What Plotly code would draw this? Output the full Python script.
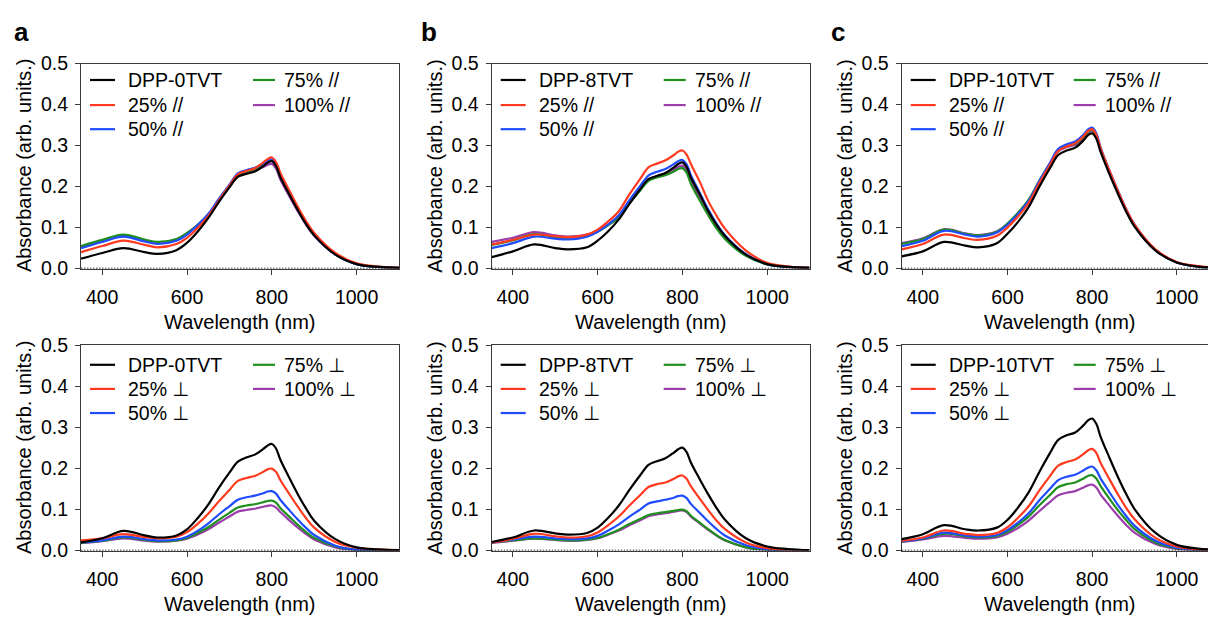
import plotly.graph_objects as go

W, H = 1208, 625

# Wavelength grid (nm) at which the spectra are sampled
wavelength = [350, 400, 450, 500, 530, 575, 600, 625, 650, 675, 700, 720, 740, 760,
              780, 790, 800, 810, 820, 840, 860, 880, 900, 950, 1000, 1050, 1100]

# ---- a: DPP-0TVT, parallel polarisation ----
a_par_neat = [0.024, 0.038, 0.050, 0.040, 0.036, 0.045, 0.063, 0.090, 0.123, 0.162, 0.198, 0.224, 0.231, 0.237,
              0.250, 0.258, 0.262, 0.250, 0.223, 0.183, 0.145, 0.110, 0.081, 0.034, 0.011, 0.004, 0.002]
a_par_25 = [0.040, 0.055, 0.068, 0.058, 0.052, 0.060, 0.075, 0.099, 0.128, 0.166, 0.202, 0.230, 0.238, 0.245,
            0.259, 0.267, 0.271, 0.260, 0.234, 0.193, 0.153, 0.117, 0.087, 0.038, 0.013, 0.005, 0.002]
a_par_50 = [0.050, 0.065, 0.078, 0.066, 0.060, 0.068, 0.083, 0.106, 0.133, 0.170, 0.205, 0.232, 0.240, 0.246,
            0.256, 0.263, 0.266, 0.254, 0.227, 0.186, 0.148, 0.112, 0.082, 0.035, 0.011, 0.004, 0.002]
a_par_75 = [0.055, 0.070, 0.083, 0.071, 0.065, 0.072, 0.087, 0.107, 0.131, 0.168, 0.203, 0.229, 0.236, 0.243,
            0.254, 0.261, 0.264, 0.252, 0.225, 0.185, 0.147, 0.111, 0.082, 0.035, 0.011, 0.004, 0.002]
a_par_100 = [0.052, 0.067, 0.080, 0.068, 0.062, 0.070, 0.085, 0.105, 0.129, 0.166, 0.200, 0.227, 0.234, 0.240,
             0.248, 0.253, 0.255, 0.244, 0.218, 0.179, 0.142, 0.108, 0.080, 0.034, 0.011, 0.004, 0.002]

# ---- b: DPP-8TVT, parallel polarisation ----
b_par_neat = [0.028, 0.042, 0.059, 0.050, 0.047, 0.052, 0.068, 0.091, 0.120, 0.158, 0.193, 0.218, 0.226, 0.233,
              0.247, 0.255, 0.259, 0.248, 0.222, 0.183, 0.142, 0.108, 0.080, 0.034, 0.011, 0.004, 0.002]
b_par_25 = [0.059, 0.070, 0.083, 0.079, 0.077, 0.083, 0.095, 0.115, 0.140, 0.181, 0.218, 0.247, 0.256, 0.264,
            0.277, 0.285, 0.288, 0.278, 0.255, 0.214, 0.167, 0.130, 0.098, 0.044, 0.014, 0.005, 0.002]
b_par_50 = [0.050, 0.062, 0.078, 0.073, 0.071, 0.078, 0.090, 0.108, 0.130, 0.167, 0.201, 0.227, 0.236, 0.243,
            0.255, 0.262, 0.265, 0.254, 0.228, 0.187, 0.146, 0.111, 0.082, 0.035, 0.011, 0.004, 0.002]
b_par_75 = [0.058, 0.069, 0.084, 0.077, 0.075, 0.080, 0.090, 0.106, 0.125, 0.159, 0.190, 0.214, 0.222, 0.228,
            0.237, 0.243, 0.245, 0.234, 0.207, 0.168, 0.132, 0.099, 0.073, 0.031, 0.010, 0.004, 0.002]
b_par_100 = [0.065, 0.075, 0.089, 0.081, 0.078, 0.083, 0.092, 0.107, 0.126, 0.160, 0.192, 0.217, 0.225, 0.231,
             0.242, 0.248, 0.251, 0.240, 0.214, 0.176, 0.139, 0.105, 0.078, 0.033, 0.011, 0.004, 0.002]

# ---- c: DPP-10TVT, parallel polarisation ----
c_par_neat = [0.030, 0.042, 0.065, 0.056, 0.052, 0.062, 0.085, 0.114, 0.150, 0.199, 0.244, 0.277, 0.288, 0.295,
              0.313, 0.325, 0.330, 0.317, 0.285, 0.233, 0.185, 0.140, 0.103, 0.044, 0.015, 0.005, 0.002]
c_par_25 = [0.047, 0.060, 0.083, 0.074, 0.070, 0.080, 0.100, 0.127, 0.160, 0.208, 0.252, 0.287, 0.298, 0.306,
            0.323, 0.335, 0.340, 0.326, 0.294, 0.241, 0.192, 0.146, 0.108, 0.047, 0.016, 0.006, 0.002]
c_par_50 = [0.055, 0.068, 0.092, 0.083, 0.078, 0.088, 0.107, 0.133, 0.165, 0.213, 0.257, 0.292, 0.303, 0.310,
            0.327, 0.339, 0.344, 0.330, 0.296, 0.242, 0.193, 0.146, 0.108, 0.046, 0.015, 0.005, 0.002]
c_par_75 = [0.060, 0.072, 0.095, 0.085, 0.081, 0.090, 0.110, 0.136, 0.168, 0.214, 0.256, 0.289, 0.299, 0.305,
            0.321, 0.333, 0.338, 0.324, 0.291, 0.238, 0.190, 0.144, 0.106, 0.045, 0.015, 0.005, 0.002]
c_par_100 = [0.062, 0.074, 0.096, 0.086, 0.082, 0.091, 0.109, 0.134, 0.164, 0.210, 0.253, 0.286, 0.296, 0.302,
             0.319, 0.331, 0.336, 0.322, 0.289, 0.237, 0.189, 0.143, 0.105, 0.045, 0.015, 0.005, 0.002]

# ---- a: DPP-0TVT, perpendicular polarisation ----
a_perp_neat = [0.020, 0.030, 0.048, 0.037, 0.032, 0.037, 0.052, 0.079, 0.112, 0.153, 0.190, 0.217, 0.227, 0.234,
               0.248, 0.256, 0.260, 0.249, 0.222, 0.180, 0.140, 0.104, 0.073, 0.028, 0.008, 0.003, 0.001]
a_perp_25 = [0.025, 0.030, 0.040, 0.033, 0.030, 0.034, 0.045, 0.065, 0.090, 0.120, 0.148, 0.170, 0.177, 0.182,
             0.192, 0.198, 0.200, 0.192, 0.172, 0.140, 0.109, 0.080, 0.056, 0.021, 0.007, 0.003, 0.001]
a_perp_50 = [0.020, 0.025, 0.034, 0.028, 0.025, 0.027, 0.034, 0.048, 0.066, 0.088, 0.108, 0.124, 0.130, 0.134,
             0.140, 0.144, 0.145, 0.139, 0.124, 0.100, 0.077, 0.056, 0.038, 0.012, 0.002, 0.001, 0.000]
a_perp_75 = [0.019, 0.024, 0.032, 0.026, 0.023, 0.025, 0.031, 0.043, 0.057, 0.075, 0.092, 0.105, 0.110, 0.113,
             0.118, 0.121, 0.122, 0.117, 0.104, 0.084, 0.064, 0.046, 0.031, 0.010, 0.002, 0.001, 0.000]
a_perp_100 = [0.018, 0.023, 0.030, 0.024, 0.022, 0.024, 0.029, 0.039, 0.052, 0.068, 0.083, 0.095, 0.099, 0.102,
              0.107, 0.109, 0.110, 0.105, 0.094, 0.075, 0.057, 0.041, 0.027, 0.008, 0.001, 0.000, 0.000]

# ---- b: DPP-8TVT, perpendicular polarisation ----
b_perp_neat = [0.021, 0.032, 0.049, 0.042, 0.039, 0.043, 0.056, 0.080, 0.110, 0.148, 0.183, 0.209, 0.218, 0.225,
               0.239, 0.247, 0.251, 0.240, 0.215, 0.176, 0.139, 0.105, 0.076, 0.030, 0.010, 0.004, 0.001]
b_perp_25 = [0.020, 0.029, 0.041, 0.035, 0.032, 0.035, 0.044, 0.062, 0.083, 0.110, 0.135, 0.155, 0.162, 0.166,
             0.175, 0.181, 0.183, 0.175, 0.157, 0.128, 0.100, 0.074, 0.053, 0.020, 0.006, 0.002, 0.001]
b_perp_50 = [0.020, 0.027, 0.034, 0.030, 0.028, 0.030, 0.036, 0.049, 0.064, 0.083, 0.100, 0.115, 0.120, 0.124,
             0.129, 0.133, 0.134, 0.128, 0.114, 0.093, 0.072, 0.053, 0.037, 0.013, 0.003, 0.001, 0.000]
b_perp_75 = [0.020, 0.025, 0.030, 0.027, 0.025, 0.027, 0.031, 0.040, 0.051, 0.065, 0.077, 0.087, 0.091, 0.094,
             0.097, 0.099, 0.100, 0.096, 0.085, 0.069, 0.053, 0.038, 0.026, 0.008, 0.002, 0.001, 0.000]
b_perp_100 = [0.019, 0.024, 0.029, 0.026, 0.024, 0.026, 0.030, 0.039, 0.049, 0.062, 0.074, 0.084, 0.088, 0.091,
              0.095, 0.097, 0.098, 0.094, 0.083, 0.067, 0.051, 0.037, 0.025, 0.008, 0.002, 0.001, 0.000]

# ---- c: DPP-10TVT, perpendicular polarisation ----
c_perp_neat = [0.028, 0.040, 0.062, 0.052, 0.049, 0.056, 0.075, 0.105, 0.142, 0.191, 0.237, 0.270, 0.281, 0.288,
               0.306, 0.317, 0.322, 0.309, 0.278, 0.229, 0.182, 0.139, 0.102, 0.043, 0.014, 0.005, 0.002]
c_perp_25 = [0.024, 0.032, 0.049, 0.041, 0.038, 0.043, 0.057, 0.080, 0.108, 0.146, 0.181, 0.207, 0.216, 0.222,
             0.236, 0.244, 0.248, 0.238, 0.214, 0.176, 0.139, 0.105, 0.077, 0.031, 0.010, 0.003, 0.001]
c_perp_50 = [0.023, 0.030, 0.044, 0.037, 0.034, 0.038, 0.050, 0.068, 0.091, 0.122, 0.150, 0.172, 0.180, 0.185,
             0.196, 0.202, 0.205, 0.196, 0.176, 0.144, 0.113, 0.085, 0.061, 0.024, 0.007, 0.002, 0.001]
c_perp_75 = [0.022, 0.029, 0.041, 0.035, 0.032, 0.036, 0.046, 0.063, 0.083, 0.110, 0.135, 0.155, 0.162, 0.166,
             0.176, 0.182, 0.184, 0.176, 0.158, 0.128, 0.100, 0.075, 0.053, 0.020, 0.006, 0.002, 0.001]
c_perp_100 = [0.021, 0.027, 0.036, 0.031, 0.029, 0.032, 0.041, 0.055, 0.073, 0.096, 0.118, 0.135, 0.141, 0.145,
              0.154, 0.159, 0.161, 0.154, 0.137, 0.111, 0.086, 0.063, 0.044, 0.016, 0.004, 0.001, 0.000]

polymers = ["DPP-0TVT", "DPP-8TVT", "DPP-10TVT"]
blend_labels = ["25%", "50%", "75%", "100%"]
polarisation_marks = ["//", "\u22a5"]
panel_letters = ["a", "b", "c"]
colors = ["#000000", "#ff3a1f", "#1f4cff", "#1f8f1f", "#9b3dab"]

x_ticks = [400, 600, 800, 1000]
y_ticks = [0.0, 0.1, 0.2, 0.3, 0.4, 0.5]
y_tick_text = ["0.0", "0.1", "0.2", "0.3", "0.4", "0.5"]

spectra = [
    [[a_par_neat, a_par_25, a_par_50, a_par_75, a_par_100],
     [b_par_neat, b_par_25, b_par_50, b_par_75, b_par_100],
     [c_par_neat, c_par_25, c_par_50, c_par_75, c_par_100]],
    [[a_perp_neat, a_perp_25, a_perp_50, a_perp_75, a_perp_100],
     [b_perp_neat, b_perp_25, b_perp_50, b_perp_75, b_perp_100],
     [c_perp_neat, c_perp_25, c_perp_50, c_perp_75, c_perp_100]],
]

# Page geometry (pixels)
col_left = [81.0, 491.7, 901.7]
col_right = [399.0, 809.5, 1208.0]
x_max = [1100, 1100, 1074]          # right-hand column runs off the page edge
row_top = [54.5, 346.7]
row_bottom = [267.0, 559.3]

FONT = "Liberation Sans, Arial, Helvetica, DejaVu Sans, sans-serif"
AXIS_COLOR = "#3a3a3a"


def px(x):
    return x / W


def py(y):
    return 1 - y / H


fig = go.Figure()
shapes = []
annotations = []

for r in range(2):
    for c in range(3):
        idx = r * 3 + c + 1
        xa = "x" if idx == 1 else f"x{idx}"
        ya = "y" if idx == 1 else f"y{idx}"
        xkey = "xaxis" if idx == 1 else f"xaxis{idx}"
        ykey = "yaxis" if idx == 1 else f"yaxis{idx}"

        labels = [polymers[c]] + [f"{b} {polarisation_marks[r]}" for b in blend_labels]
        series = spectra[r][c]

        # neat polymer drawn last so it sits on top
        for k in reversed(range(5)):
            fig.add_trace(go.Scatter(
                x=wavelength, y=series[k], mode="lines", name=labels[k],
                line=dict(color=colors[k], width=2.2, shape="spline", smoothing=1.0),
                xaxis=xa, yaxis=ya, showlegend=False,
            ))

        fig.layout[xkey] = dict(
            domain=[px(col_left[c]), px(col_right[c])],
            range=[350, x_max[c]], anchor=ya,
            tickvals=x_ticks, ticks="outside", ticklen=5, tickwidth=1.2,
            tickcolor=AXIS_COLOR, showline=True, linecolor=AXIS_COLOR, linewidth=1.2,
            mirror=True, showgrid=False, zeroline=False,
            tickfont=dict(family=FONT, size=19.5, color="#000"),
            ticklabelstandoff=6,
        )
        fig.layout[ykey] = dict(
            domain=[py(row_bottom[r]), py(row_top[r])],
            range=[0, 0.5], anchor=xa,
            tickvals=y_ticks, ticktext=y_tick_text, ticks="outside", ticklen=5,
            tickwidth=1.2, tickcolor=AXIS_COLOR, showline=True, linecolor=AXIS_COLOR,
            linewidth=1.2, mirror=(c < 2), showgrid=False, zeroline=False,
            tickfont=dict(family=FONT, size=19.5, color="#000"),
            ticklabelstandoff=3,
        )

        # dotted baseline at zero absorbance
        shapes.append(dict(type="line", xref=f"{xa} domain", yref=ya, x0=0, x1=1, y0=0, y1=0,
                           line=dict(color="#000", width=1.5, dash="1.5px,1.5px")))

        # axis titles
        px_per_nm = (col_right[c] - col_left[c]) / (x_max[c] - 350)
        x_mid = col_left[c] + 375 * px_per_nm
        annotations.append(dict(
            text="Wavelength (nm)", x=px(x_mid), y=py(row_bottom[r] + 55),
            xref="paper", yref="paper", xanchor="center", yanchor="middle",
            showarrow=False, font=dict(family=FONT, size=20, color="#000")))
        annotations.append(dict(
            text="Absorbance (arb. units.)", textangle=-90,
            x=px(col_left[c] - 57), y=py((row_top[r] + row_bottom[r]) / 2),
            xref="paper", yref="paper", xanchor="center", yanchor="middle",
            showarrow=False, font=dict(family=FONT, size=20, color="#000")))

        # in-plot legend, two columns
        row_off = [17, 43, 68] if r == 0 else [20, 45, 70]
        slots = [(0, 0), (0, 1), (0, 2), (1, 0), (1, 1)]
        for k, (colnum, rownum) in enumerate(slots):
            yy = row_top[r] + row_off[rownum]
            if colnum == 0:
                lx0, lx1, tx = 9, 34, 45
            else:
                lx0, lx1, tx = 172, 194, 201
            shapes.append(dict(type="line", xref="paper", yref="paper",
                               x0=px(col_left[c] + lx0), x1=px(col_left[c] + lx1),
                               y0=py(yy), y1=py(yy),
                               line=dict(color=colors[k], width=2.2)))
            annotations.append(dict(
                text=labels[k], x=px(col_left[c] + tx), y=py(yy),
                xref="paper", yref="paper", xanchor="left", yanchor="middle",
                showarrow=False, font=dict(family=FONT, size=19.5, color="#000")))

# panel letters
letter_x = [21, 429, 838]
for c in range(3):
    annotations.append(dict(
        text=f"<b>{panel_letters[c]}</b>", x=px(letter_x[c]), y=py(22),
        xref="paper", yref="paper", xanchor="center", yanchor="middle",
        showarrow=False, font=dict(family=FONT, size=26, color="#000")))

fig.update_layout(
    width=W, height=H, margin=dict(l=0, r=0, t=0, b=0),
    paper_bgcolor="white", plot_bgcolor="white",
    showlegend=False, shapes=shapes, annotations=annotations,
    font=dict(family=FONT),
)

fig.write_html("out.html")
